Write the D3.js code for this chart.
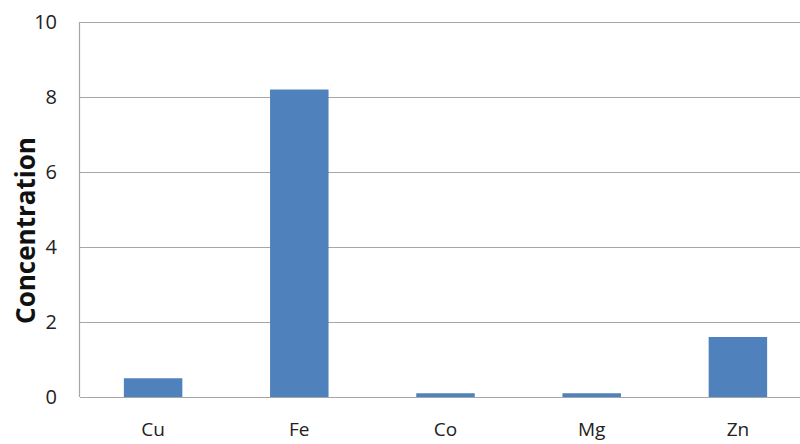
<!DOCTYPE html>
<html>
<head>
<meta charset="utf-8">
<script src="https://cdn.jsdelivr.net/npm/d3@7"></script>
<style>
  body { margin: 0; background: #fff; }
  svg { display: block; }
</style>
</head>
<body>
<div id="grafica"></div>
<script>
var elements = ["Cu", "Fe", "Co", "Mg", "Zn"];
var concentration = [0.5, 8.2, 0.1, 0.1, 1.6];
var yTicks = [0, 2, 4, 6, 8, 10];

var W = 800, H = 444;
var margin = {top: 22, right: -11, bottom: 47, left: 80};
var width = W - margin.left - margin.right,
    height = H - margin.top - margin.bottom;

var svg = d3.select("#grafica")
  .append("svg")
    .attr("width", W)
    .attr("height", H)
  .append("g")
    .attr("transform", "translate(" + margin.left + "," + margin.top + ")");

var x = d3.scaleBand()
  .domain(elements)
  .range([0, width])
  .paddingInner(0.6)
  .paddingOuter(0.3);

var y = d3.scaleLinear()
  .domain([0, 10])
  .range([height, 0]);

// gridlines
svg.append("g")
  .selectAll("line")
  .data(yTicks)
  .enter().append("line")
    .attr("x1", 0)
    .attr("x2", width)
    .attr("y1", function(d) { return Math.round(y(d)) + 0.5; })
    .attr("y2", function(d) { return Math.round(y(d)) + 0.5; })
    .attr("stroke", "#a6a6a6")
    .attr("stroke-width", 1.2);

// y axis line
svg.append("line")
  .attr("x1", -0.5).attr("x2", -0.5)
  .attr("y1", 0).attr("y2", height)
  .attr("stroke", "#a6a6a6")
  .attr("stroke-width", 1.2);

// bars
svg.selectAll(".bar")
  .data(elements)
  .enter().append("rect")
    .attr("class", "bar")
    .attr("x", function(d) { return x(d); })
    .attr("width", x.bandwidth())
    .attr("y", function(d, i) { return y(concentration[i]); })
    .attr("height", function(d, i) { return height - y(concentration[i]); })
    .attr("fill", "#4f81bd");

// y tick labels
svg.append("g")
  .selectAll("text")
  .data(yTicks)
  .enter().append("text")
    .attr("x", -23)
    .attr("y", function(d) { return y(d); })
    .attr("dy", "0.36em")
    .attr("text-anchor", "end")
    .style("font-family", "'Open Sans', 'Liberation Sans', sans-serif")
    .style("font-size", "20px")
    .style("fill", "#222")
    .text(function(d) { return d; });

// x labels
svg.append("g")
  .selectAll("text")
  .data(elements)
  .enter().append("text")
    .attr("x", function(d) { return x(d) + x.bandwidth() / 2; })
    .attr("y", height + 39)
    .attr("text-anchor", "middle")
    .style("font-family", "'Open Sans', 'Liberation Sans', sans-serif")
    .style("font-size", "19px")
    .style("fill", "#222")
    .text(function(d) { return d; });

// y title
svg.append("text")
  .attr("transform", "translate(" + (-45) + "," + (height / 2 + 21) + ") rotate(-90)")
  .attr("text-anchor", "middle")
  .style("font-family", "'Open Sans', 'Liberation Sans', sans-serif")
  .style("font-size", "26px")
  .style("font-weight", "bold")
  .style("fill", "#111")
  .text("Concentration");
</script>
</body>
</html>
